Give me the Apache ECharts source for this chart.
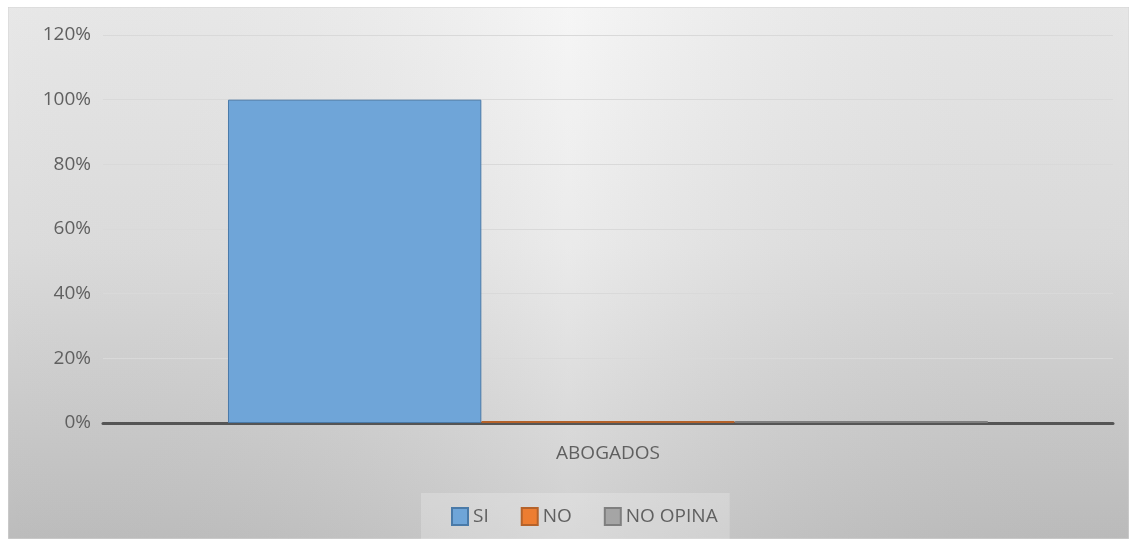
<!DOCTYPE html>
<html>
<head>
<meta charset="utf-8">
<script src="https://cdn.jsdelivr.net/npm/echarts@6/dist/echarts.min.js"></script>
<style>
body{margin:0;background:#fff;}
#grafico{position:absolute;left:8px;top:7px;width:1121px;height:532px;}
</style>
</head>
<body>
<div id="grafico"></div>
<script>
var categorias=['ABOGADOS'];
var series_nombre=['SI','NO','NO OPINA'];
var valores_si=[100];
var valores_no=[0];
var valores_noopina=[0];

//dibujar
function drawImg(){
	var option = {
		    backgroundColor: {
		        type: 'linear',
		        x: 0, y: 0, x2: 0, y2: 1,
		        colorStops: [
		            {offset: 0, color: '#f4f4f4'},
		            {offset: 0.45, color: '#e7e7e7'},
		            {offset: 1, color: '#c6c6c6'}
		        ]
		    },
		    textStyle: {
		        fontFamily: 'Open Sans'
		    },
		    graphic: [
		        {
		            type: 'rect',
		            z: -10,
		            silent: true,
		            shape: {x: 0, y: 0, width: 1121, height: 532},
		            style: {
		                fill: {
		                    type: 'linear',
		                    x: 0, y: 0, x2: 1, y2: 0,
		                    colorStops: [
		                        {offset: 0, color: 'rgba(0,0,0,0.05)'},
		                        {offset: 0.5, color: 'rgba(255,255,255,0.15)'},
		                        {offset: 1, color: 'rgba(0,0,0,0.06)'}
		                    ]
		                },
		                stroke: '#d4d4d4',
		                lineWidth: 1
		            }
		        }
		    ],
		    legend: {
		        data: series_nombre,
		        icon: 'rect',
		        left: 413,
		        top: 486,
		        padding: [14, 12, 30, 30],
		        backgroundColor: 'rgba(255,255,255,0.22)',
		        itemWidth: 16,
		        itemHeight: 17,
		        itemGap: 32,
		        textStyle: {
		            color: '#606060',
		            fontSize: 19
		        }
		    },
		    grid: {
		        left: 95,
		        right: 16,
		        top: 28,
		        bottom: 116
		    },
		    xAxis: {
		        type: 'category',
		        data: categorias,
		        axisTick: {show: false},
		        axisLine: {
		            lineStyle: {color: '#555555', width: 3}
		        },
		        axisLabel: {
		            color: '#606060',
		            fontSize: 19,
		            margin: 21
		        }
		    },
		    yAxis: {
		        type: 'value',
		        min: 0,
		        max: 120,
		        interval: 20,
		        axisLine: {show: false},
		        axisTick: {show: false},
		        axisLabel: {
		            color: '#606060',
		            fontSize: 19,
		            margin: 12,
		            formatter: '{value}%'
		        },
		        splitLine: {
		            lineStyle: {color: '#d9d9d9', width: 1}
		        }
		    },
		    series: [
		        {
		            name: series_nombre[0],
		            type: 'bar',
		            barGap: '0%',
		            barCategoryGap: '24.75%',
		            data: valores_si,
		            itemStyle: {color: '#6fa5d8', borderColor: '#4a7aa8', borderWidth: 1}
		        },
		        {
		            name: series_nombre[1],
		            type: 'bar',
		            barMinHeight: 2,
		            data: valores_no,
		            itemStyle: {color: '#ed7d31', borderColor: '#b5622a', borderWidth: 1}
		        },
		        {
		            name: series_nombre[2],
		            type: 'bar',
		            barMinHeight: 2,
		            data: valores_noopina,
		            itemStyle: {color: '#a5a5a5', borderColor: '#7f7f7f', borderWidth: 1}
		        }
		    ]
		};
	var myChart = echarts.init(document.getElementById('grafico'));
	myChart.setOption(option);
}

drawImg();
</script>
</body>
</html>
